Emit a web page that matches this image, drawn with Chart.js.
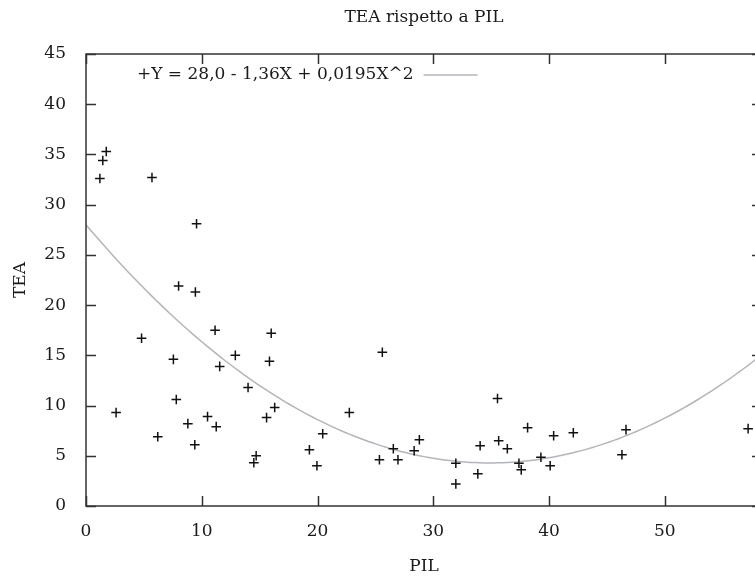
<!DOCTYPE html>
<html>
<head>
<meta charset="utf-8">
<script src="https://cdn.jsdelivr.net/npm/chart.js@4.4.0/dist/chart.umd.min.js"></script>
<style>
  html, body { margin: 0; padding: 0; background: #fff; overflow: hidden; }
  canvas { display: block; }
</style>
</head>
<body>
<canvas id="teaChart" width="775" height="577"></canvas>
<script>
// PIL (x) and TEA (y) per country
const pilValues = [1.2, 1.45, 1.75, 5.7, 9.55, 8.0, 9.45, 2.6, 4.8, 6.2, 7.55, 7.8,
  8.8, 9.4, 10.5, 11.15, 11.25, 11.55, 12.9, 14.0, 14.5, 14.7, 15.6, 15.85, 16.0,
  16.3, 19.3, 19.95, 20.45, 22.75, 25.6, 25.35, 26.55, 26.95, 28.35, 28.8, 31.95,
  31.95, 33.85, 34.05, 35.55, 35.65, 36.4, 37.4, 37.6, 38.15, 39.3, 40.1, 40.4,
  42.1, 46.3, 46.65, 57.2];
const teaValues = [32.6, 34.4, 35.3, 32.7, 28.1, 21.9, 21.3, 9.3, 16.7, 6.9, 14.6, 10.6,
  8.2, 6.1, 8.9, 17.5, 7.9, 13.9, 15.0, 11.8, 4.3, 5.0, 8.8, 14.4, 17.2,
  9.8, 5.6, 4.0, 7.2, 9.3, 15.3, 4.6, 5.7, 4.6, 5.5, 6.6, 4.25,
  2.2, 3.2, 6.0, 10.7, 6.5, 5.7, 4.25, 3.6, 7.8, 4.85, 4.0, 7.0,
  7.3, 5.1, 7.6, 7.7];

// quadratic fit: c0 + c1*x + c2*x^2
const fitCoeffs = [28.0, -1.36, 0.0195];
const fitLabel = "+Y = 28,0 - 1,36X + 0,0195X^2";

const xTicks = [0, 10, 20, 30, 40, 50];
const yTicks = [0, 5, 10, 15, 20, 25, 30, 35, 40, 45];
const xMax = 58.4;

const FONT = "'DejaVu Serif', 'Liberation Serif', serif";

const points = pilValues.map((v, i) => ({ x: v, y: teaValues[i] }));
const fitPoints = [];
for (let x = 0; x <= xMax; x += 0.4) {
  fitPoints.push({ x: x, y: fitCoeffs[0] + fitCoeffs[1] * x + fitCoeffs[2] * x * x });
}

// frame with inward ticks on all four sides, plus the key inside the plot
const framePlugin = {
  id: "frame",
  afterDatasetsDraw(chart) {
    const { ctx, chartArea: a, scales: { x, y } } = chart;
    ctx.save();
    ctx.strokeStyle = "#333";
    ctx.lineWidth = 1.5;
    ctx.strokeRect(a.left, a.top, a.right - a.left, a.bottom - a.top);
    ctx.beginPath();
    x.ticks.forEach(t => {
      const px = Math.round(x.getPixelForValue(t.value)) + 0.5;
      ctx.moveTo(px, a.bottom); ctx.lineTo(px, a.bottom - 10);
      ctx.moveTo(px, a.top); ctx.lineTo(px, a.top + 10);
    });
    y.ticks.forEach(t => {
      const py = Math.round(y.getPixelForValue(t.value)) + 0.5;
      ctx.moveTo(a.left, py); ctx.lineTo(a.left + 10, py);
      ctx.moveTo(a.right, py); ctx.lineTo(a.right - 10, py);
    });
    ctx.stroke();

    const fit = chart.data.datasets[1];
    ctx.font = "17px " + FONT;
    ctx.fillStyle = "#1a1a1a";
    ctx.textBaseline = "middle";
    ctx.textAlign = "left";
    const kx = a.left + 51, ky = a.top + 21;
    ctx.fillText(fit.label, kx, ky);
    const w = ctx.measureText(fit.label).width;
    ctx.strokeStyle = fit.borderColor;
    ctx.lineWidth = fit.borderWidth;
    ctx.beginPath();
    ctx.moveTo(kx + w + 10, ky); ctx.lineTo(kx + w + 64, ky);
    ctx.stroke();
    ctx.restore();
  }
};

new Chart("teaChart", {
  type: "scatter",
  data: {
    datasets: [{
      label: "TEA",
      data: points,
      pointStyle: "cross",
      pointRadius: 4.8,
      pointBorderWidth: 1.5,
      borderColor: "#111",
      backgroundColor: "#111"
    }, {
      type: "line",
      label: fitLabel,
      data: fitPoints,
      borderColor: "#b4b4bc",
      borderWidth: 1.5,
      pointRadius: 0,
      fill: false,
      tension: 0
    }]
  },
  options: {
    responsive: false,
    animation: false,
    layout: { padding: { left: 0, right: 13, top: 0, bottom: 0 } },
    plugins: {
      legend: { display: false },
      tooltip: { enabled: false },
      title: {
        display: true,
        text: "TEA rispetto a PIL",
        fullSize: false,
        color: "#1a1a1a",
        font: { family: FONT, size: 17, weight: "normal" },
        padding: { top: 7, bottom: 26.6 }
      }
    },
    scales: {
      x: {
        type: "linear",
        min: 0,
        max: xMax,
        grid: { display: false },
        border: { display: false },
        afterBuildTicks: s => { s.ticks = xTicks.map(v => ({ value: v })); },
        afterFit: s => { s.height = 71; },
        ticks: {
          color: "#1a1a1a",
          padding: 7,
          maxRotation: 0,
          font: { family: FONT, size: 17 }
        },
        title: {
          display: true,
          text: "PIL",
          color: "#1a1a1a",
          padding: { top: 0, bottom: 0 },
          font: { family: FONT, size: 17 }
        }
      },
      y: {
        type: "linear",
        min: 0,
        max: 45,
        grid: { display: false },
        border: { display: false },
        afterBuildTicks: s => { s.ticks = yTicks.map(v => ({ value: v })); },
        afterFit: s => { s.width = 86; },
        ticks: {
          color: "#1a1a1a",
          padding: 12,
          font: { family: FONT, size: 17 }
        },
        title: {
          display: true,
          text: "TEA",
          color: "#1a1a1a",
          padding: { top: 10, bottom: 0 },
          font: { family: FONT, size: 17 }
        }
      }
    }
  },
  plugins: [framePlugin]
});
</script>
</body>
</html>
